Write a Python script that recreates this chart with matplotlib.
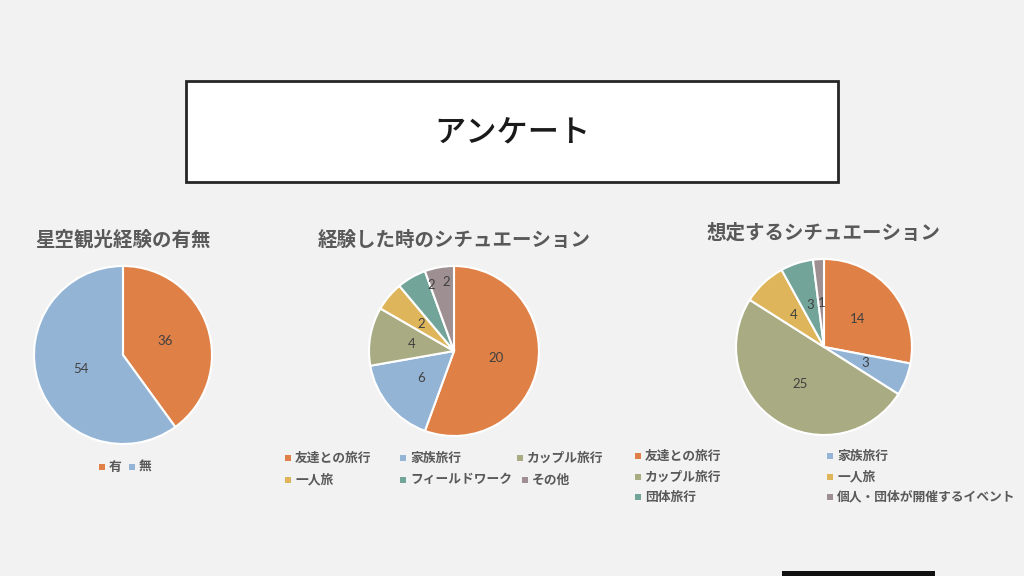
import numpy as np
import matplotlib.pyplot as plt
from matplotlib.patches import Rectangle

plt.rcParams['font.family'] = ['Noto Sans CJK JP', 'DejaVu Sans']

W, H = 1024, 576

# slice colours (Excel "Slipstream"-like palette)
colors = ['#DF8046', '#94B4D6', '#A9AB82', '#DEB55A', '#72A49A', '#9E9092']

# 星空観光経験の有無
exp_labels = ['有', '無']
exp_values = [36, 54]

# 経験した時のシチュエーション
past_labels = ['友達との旅行', '家族旅行', 'カップル旅行', '一人旅', 'フィールドワーク', 'その他']
past_values = [20, 6, 4, 2, 2, 2]

# 想定するシチュエーション
plan_labels = ['友達との旅行', '家族旅行', 'カップル旅行', '一人旅', '団体旅行', '個人・団体が開催するイベント']
plan_values = [14, 3, 25, 4, 3, 1]


def fx(x):
    return x / W


def fy(y):
    return 1 - y / H


fig = plt.figure(figsize=(W / 100, H / 100), dpi=100, facecolor='#F2F2F2')

# title box
fig.patches.append(Rectangle((fx(186), fy(182)), (838 - 186) / W, (182 - 81) / H,
                             transform=fig.transFigure, facecolor='white',
                             edgecolor='#262626', linewidth=2))
fig.text(fx(512), fy(133), 'アンケート', ha='center', va='center',
         fontsize=22.5, fontweight='medium', color='#1a1a1a')

# black bar at the bottom edge
fig.patches.append(Rectangle((fx(782), 0), (935 - 782) / W, 5 / H,
                             transform=fig.transFigure, facecolor='#111111',
                             edgecolor='none'))


def draw_pie(cx, cy, r, values, dists, shifts=None):
    if shifts is None:
        shifts = [0] * len(values)
    ax = fig.add_axes([fx(cx - r), fy(cy + r), 2 * r / W, 2 * r / H])
    wedges, _ = ax.pie(values, colors=colors[:len(values)], startangle=90,
                       counterclock=False, radius=1,
                       wedgeprops=dict(edgecolor='white', linewidth=1.5))
    # data labels, small slices nudged apart like Excel does
    for w, v, d, s in zip(wedges, values, dists, shifts):
        mid = np.deg2rad((w.theta1 + w.theta2) / 2 + s)
        ax.text(d * np.cos(mid), d * np.sin(mid), str(v), ha='center', va='center',
                fontsize=9.5, color='#404040', family=['Lato', 'DejaVu Sans'])
    ax.set_xlim(-1, 1)
    ax.set_ylim(-1, 1)
    ax.axis('off')
    return wedges


def draw_legend(labels, spots, n):
    for i, (lab, (mx, my)) in enumerate(zip(labels, spots)):
        fig.patches.append(Rectangle((fx(mx - 3), fy(my + 3)), 6 / W, 6 / H,
                                     transform=fig.transFigure,
                                     facecolor=colors[i % n], edgecolor='none'))
        fig.text(fx(mx + 7), fy(my), lab, ha='left', va='center', fontsize=9.2,
                 fontweight='bold', color='#595959')


title_style = dict(ha='center', va='center', fontsize=14, fontweight='bold', color='#595959')

# chart 1
fig.text(fx(123), fy(240), '星空観光経験の有無', **title_style)
draw_pie(123, 355, 89, exp_values, [0.5, 0.5])
draw_legend(exp_labels, [(102, 467), (132, 467)], 2)

# chart 2
fig.text(fx(454), fy(240), '経験した時のシチュエーション', **title_style)
draw_pie(454, 351, 85, past_values, [0.5, 0.5, 0.5, 0.5, 0.82, 0.82],
         [0, 0, 0, 0, -11, -3.5])
draw_legend(past_labels, [(288, 458), (403, 458), (520, 458),
                          (288, 480), (403, 480), (525, 480)], 6)

# chart 3
fig.text(fx(824), fy(233), '想定するシチュエーション', **title_style)
draw_pie(824, 347, 88, plan_values, [0.5, 0.5, 0.5, 0.5, 0.5, 0.5])
draw_legend(plan_labels, [(638, 456), (830, 456), (638, 477),
                          (830, 477), (638, 497), (830, 497)], 6)

fig.savefig('out.png', dpi=100, facecolor=fig.get_facecolor())
